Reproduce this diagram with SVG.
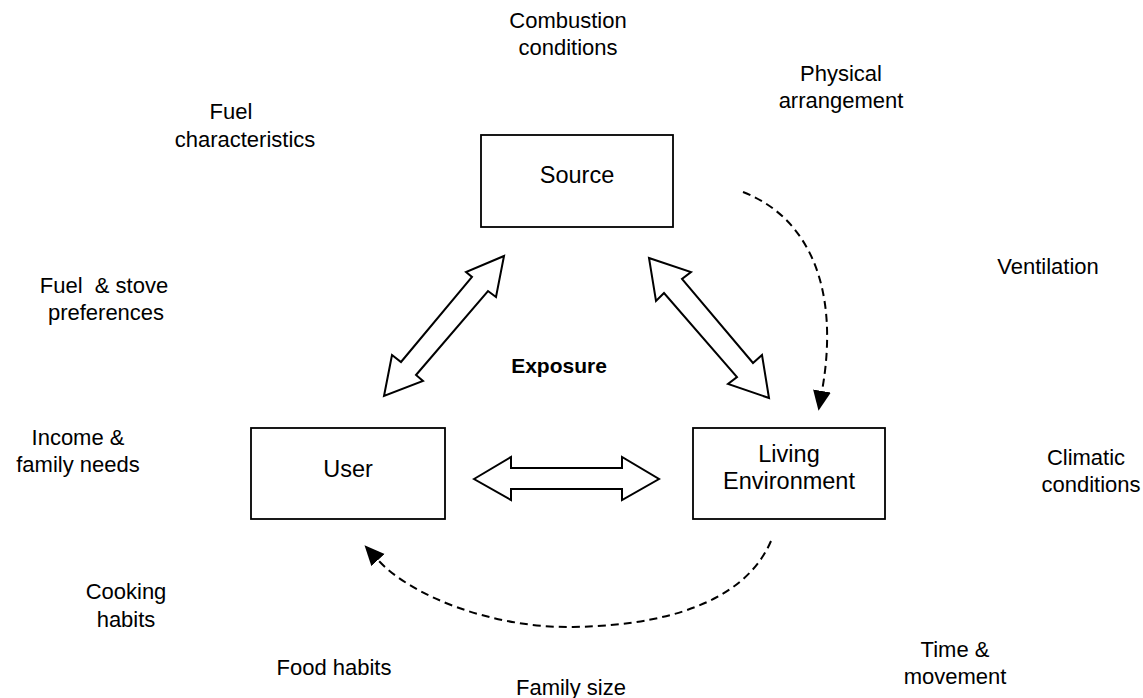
<svg xmlns="http://www.w3.org/2000/svg" width="1143" height="698" viewBox="0 0 1143 698">
<style>
text{font-family:"Liberation Sans",Arial,sans-serif;font-size:22px;fill:#000;text-anchor:middle}
.nl{font-size:23.5px}
.box{fill:#fff;stroke:#000;stroke-width:1.8}
.blk{fill:#fff;stroke:#000;stroke-width:2;stroke-linejoin:miter}
.dash{fill:none;stroke:#000;stroke-width:2;stroke-dasharray:8 5}
.b{font-weight:bold;font-size:21px}
</style>
<defs>
<marker id="ah" markerUnits="userSpaceOnUse" markerWidth="22" markerHeight="20" refX="0" refY="9" orient="auto">
<path d="M0,0 L20,9 L0,18 z" fill="#000"/>
</marker>
</defs>
<rect width="1143" height="698" fill="#fff"/>
<g id="connectors">
<polygon class="blk" points="504,256 496,297 488,291 416,375 423,381 384,396 392,355 401,362 472,277 466,272"/>
<polygon class="blk" points="649,258 691,272 682,279 753,363 762,355 769,398 728,384 737,377 664,293 656,301"/>
<polygon class="blk" points="474,479 511,457 511,468 622,468 622,457 659,479 622,500 622,489 511,489 511,500"/>
<path class="dash" d="M743,192 C810,218 840,290 822,391" marker-end="url(#ah)"/>
<path class="dash" d="M771,541 C750,590 690,625 573,627 C490,628 410,595 378,560" marker-end="url(#ah)"/>
</g>
<g id="source"><rect class="box" x="481" y="135" width="192" height="92"/><text class="nl" x="577" y="183">Source</text></g>
<g id="user"><rect class="box" x="251" y="428" width="194" height="91"/><text class="nl" x="348" y="477">User</text></g>
<g id="living"><rect class="box" x="693" y="428" width="192" height="91"/><text class="nl" x="789" y="462">Living</text><text class="nl" x="789" y="489">Environment</text></g>
<g id="labels">
<text x="568" y="28">Combustion</text><text x="568" y="55">conditions</text>
<text x="841" y="81">Physical</text><text x="841" y="108">arrangement</text>
<text x="231" y="119">Fuel</text><text x="245" y="147">characteristics</text>
<text x="1048" y="274">Ventilation</text>
<text x="104" y="293" xml:space="preserve">Fuel  &amp; stove</text><text x="106" y="320">preferences</text>
<text class="b" x="559" y="373">Exposure</text>
<text x="78" y="445">Income &amp;</text><text x="78" y="472">family needs</text>
<text x="1086" y="465">Climatic</text><text x="1091" y="492">conditions</text>
<text x="126" y="599">Cooking</text><text x="126" y="627">habits</text>
<text x="334" y="675">Food habits</text>
<text x="571" y="695">Family size</text>
<text x="955" y="657">Time &amp;</text><text x="955" y="684">movement</text>
</g>
</svg>
